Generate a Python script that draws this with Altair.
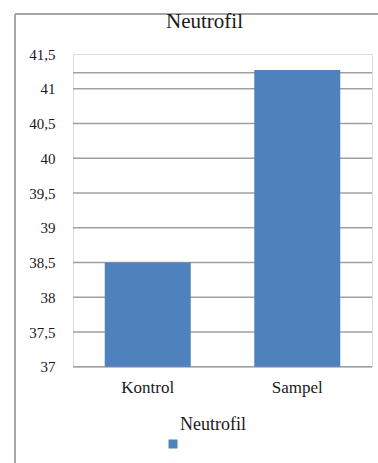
import altair as alt
import pandas as pd

categories = ["Kontrol", "Sampel"]
values = [38.5, 41.27]
series_name = "Neutrofil"
chart_title = "Neutrofil"
tick_values = [37, 37.5, 38, 38.5, 39, 39.5, 40, 40.5, 41, 41.5]
grid_values = [37, 37.5, 38, 38.5, 39, 39.5, 40, 40.5, 41, 41.23]

bars_df = pd.DataFrame({"cat": categories, "value": values, "series": [series_name] * len(categories)})
grid_df = pd.DataFrame({"g": grid_values})
title_df = pd.DataFrame({"t": [chart_title]})

FONT = "Liberation Serif"
TEXT = "#1a1a1a"

yscale = alt.Scale(domain=[37, 41.5], nice=False, zero=False)
yaxis = alt.Axis(
    title=None, values=tick_values, grid=False, domain=False, ticks=False,
    labelPadding=18, labelFont=FONT, labelFontSize=15, labelColor=TEXT,
    labelOverlap=False,
    labelExpr="replace(format(datum.value, '.1~f'), '.', ',')",
)

grid = alt.Chart(grid_df).mark_rule(color="#A0A0A0", strokeWidth=1.5).encode(
    y=alt.Y("g:Q", scale=yscale, axis=yaxis),
    x=alt.value(0),
    x2=alt.value(299),
)

frame_left = alt.Chart(grid_df).mark_rule(color="#A6A6A6", strokeWidth=2).encode(
    x=alt.value(-58), y=alt.value(-40), y2=alt.value(420)
)
frame_top = alt.Chart(grid_df).mark_rule(color="#A6A6A6", strokeWidth=2).encode(
    x=alt.value(-58), x2=alt.value(320), y=alt.value(-40)
)

title_mark = alt.Chart(title_df).mark_text(
    font=FONT, fontSize=21, color=TEXT, align="center", baseline="alphabetic"
).encode(text="t:N", x=alt.value(131.5), y=alt.value(-26))

bars = alt.Chart(bars_df).mark_bar(size=86).encode(
    x=alt.X(
        "cat:N",
        sort=categories,
        scale=alt.Scale(paddingInner=0.425, paddingOuter=0.2125),
        axis=alt.Axis(
            title=None, labelAngle=0, ticks=False, domain=False, labelPadding=13,
            labelFont=FONT, labelFontSize=17, labelColor=TEXT,
        ),
    ),
    y=alt.Y("value:Q", scale=yscale, axis=yaxis),
    y2=alt.datum(37),
    color=alt.Color(
        "series:N",
        scale=alt.Scale(range=["#4F81BD"]),
        legend=alt.Legend(
            orient="none", legendX=107, legendY=362, title=series_name,
            titleFont=FONT, titleFontSize=18, titleFontWeight="normal", titleColor=TEXT,
            titlePadding=5, labelExpr="''", symbolType="square", symbolSize=81,
            symbolOffset=-12, symbolStrokeWidth=0, padding=0,
        ),
    ),
)

chart = alt.layer(frame_left, frame_top, grid, bars, title_mark).properties(
    width=299,
    height=312.75,
    autosize=alt.AutoSizeParams(type="none"),
    padding={"left": 73, "top": 54, "right": 6, "bottom": 96},
).configure_view(stroke=None).configure(background="white")

chart.save("out.html", embed_options={"renderer": "svg", "actions": False})
